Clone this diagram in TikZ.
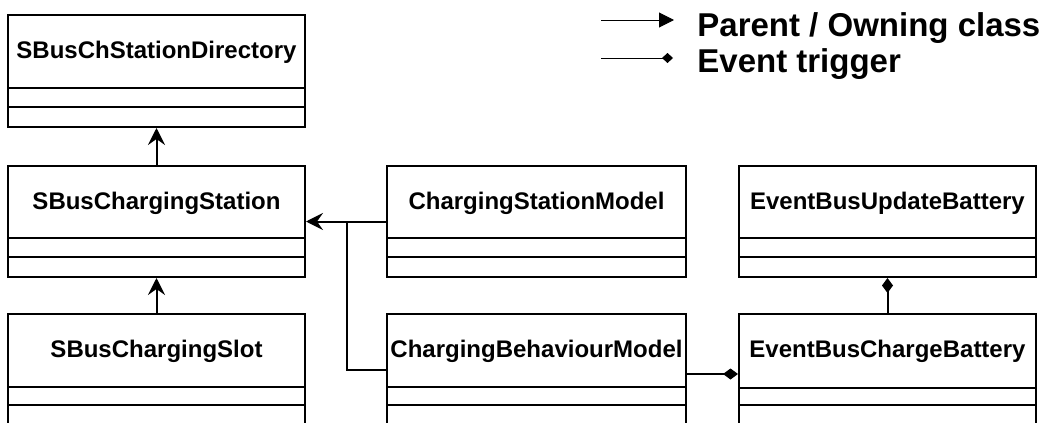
\documentclass[tikz,border=0pt]{standalone}
\usepackage{fontspec}
\setmainfont{Liberation Sans}
\usetikzlibrary{arrows.meta,fit}
\begin{document}
\begin{tikzpicture}[x=0.5pt,y=-0.5pt,
  classbox/.style={draw, line width=1pt, inner sep=0pt},
  divider/.style={line width=1pt},
  title/.style={font=\fontsize{12}{14}\selectfont\bfseries, inner sep=0pt},
  legendtext/.style={font=\fontsize{16.5}{19}\selectfont\bfseries, inner sep=0pt, anchor=base west},
  parent/.style={line width=1pt, -{Stealth[length=8.5pt,width=8.5pt,inset=3pt]}},
  trigger/.style={line width=1pt, -{Diamond[length=7.5pt,width=5.5pt]}},
  legparent/.style={line width=0.5pt, -{Triangle[length=7.5pt,width=7.5pt]}},
  legtrigger/.style={line width=0.5pt, -{Diamond[length=5.5pt,width=5pt]}}]
\clip (0,0) rectangle (1046,423);
\fill[white] (0,0) rectangle (1046,423);

% class boxes
\node[classbox, fit={(8,15) (305,127)}] (dir) {};
\node[classbox, fit={(8,166) (305,277)}] (station) {};
\node[classbox, fit={(8,314) (305,425)}] (slot) {};
\node[classbox, fit={(387,166) (686,277)}] (csm) {};
\node[classbox, fit={(387,314) (686,434)}] (cbm) {};
\node[classbox, fit={(739,166) (1036,277)}] (eub) {};
\node[classbox, fit={(739,314) (1036,434)}] (ecb) {};

% dividers
\draw[divider] (8,88) -- (305,88) (8,107) -- (305,107);
\draw[divider] (8,238) -- (305,238) (8,257) -- (305,257);
\draw[divider] (8,387) -- (305,387) (8,405) -- (305,405);
\draw[divider] (387,238) -- (686,238) (387,257) -- (686,257);
\draw[divider] (387,387) -- (686,387) (387,405) -- (686,405);
\draw[divider] (739,238) -- (1036,238) (739,257) -- (1036,257);
\draw[divider] (739,388) -- (1036,388) (739,405) -- (1036,405);

% titles
\node[title] (tdir) at (156.5,52) {SBusChStationDirectory};
\node[title] (tstation) at (156.5,203) {SBusChargingStation};
\node[title] (tslot) at (156.5,351) {SBusChargingSlot};
\node[title] (tcsm) at (536.5,203) {ChargingStationModel};
\node[title] (tcbm) at (536.5,351) {ChargingBehaviourModel};
\node[title] (teub) at (887.5,203) {EventBusUpdateBattery};
\node[title] (tecb) at (887.5,351) {EventBusChargeBattery};

% connectors
\coordinate (j) at (347,221.5);
\draw[parent] (station.north) -- (dir.south);
\draw[parent] (slot.north) -- (station.south);
\draw[parent] (csm.west) -- (station.east);
\draw[line width=1pt] (cbm.west |- 0,370) -| (j);
\draw[trigger] (cbm.east |- 0,374) -- (ecb.west |- 0,374);
\draw[trigger] (ecb.north) -- (eub.south);

% legend
\coordinate (l1a) at (601,20);
\coordinate (l1b) at (674,20);
\coordinate (l2a) at (601,58);
\coordinate (l2b) at (673,58);
\draw[legparent] (l1a) -- (l1b);
\draw[legtrigger] (l2a) -- (l2b);
\node[legendtext] (lt1) at (697,36) {Parent / Owning class};
\node[legendtext] (lt2) at (697,72) {Event trigger};
\end{tikzpicture}
\end{document}
